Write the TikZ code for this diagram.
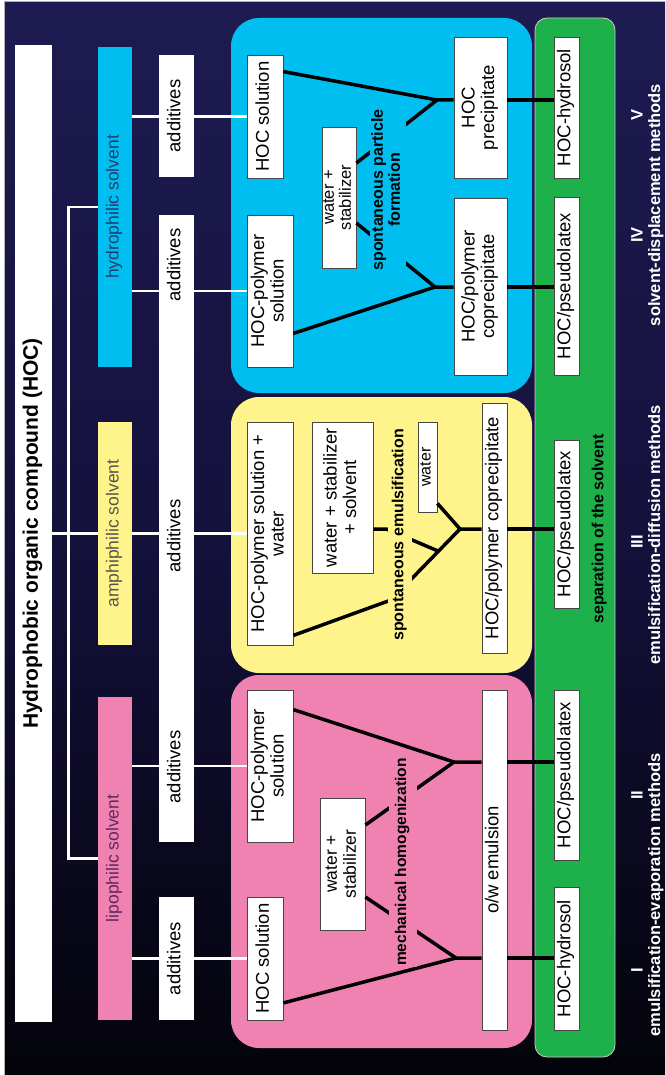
\documentclass[tikz,border=0pt]{standalone}
\usepackage{fontspec}
\setmainfont{Liberation Sans}
\usepackage{graphicx}
\usetikzlibrary{calc}

\definecolor{bgtop}{RGB}{30,27,82}
\definecolor{bgmid}{RGB}{20,17,60}
\definecolor{bgbot}{RGB}{3,3,10}
\definecolor{hydro}{RGB}{0,190,240}
\definecolor{amphi}{RGB}{255,243,140}
\definecolor{lipo}{RGB}{240,130,178}
\definecolor{sepgreen}{RGB}{30,176,75}
\definecolor{boxline}{RGB}{70,70,70}
\definecolor{hydrotext}{RGB}{35,60,110}
\definecolor{amphitext}{RGB}{85,85,75}
\definecolor{lipotext}{RGB}{95,40,90}

\newcommand{\vtext}[1]{\rotatebox{90}{\begin{tabular}{@{}c@{}}#1\end{tabular}}}

\tikzset{
  hocbox/.style={draw=boxline,line width=0.8pt,fill=white,inner sep=0pt,
    font=\fontsize{18.5}{19.5}\selectfont},
  solventbar/.style={inner sep=0pt,minimum width=34pt,font=\fontsize{17.5}{18}\selectfont},
  stagepanel/.style={rounded corners=28pt},
  conn/.style={line width=3.5pt,black},
  feed/.style={line width=2.5pt,white},
  steplabel/.style={inner sep=1pt,font=\bfseries\fontsize{16}{16.5}\selectfont},
  methodtext/.style={text=white,inner sep=0pt,font=\bfseries\fontsize{16.5}{16.5}\selectfont},
}

\begin{document}
\begin{tikzpicture}[x=1pt,y=-1pt]
    % 画布
    \useasboundingbox (0,0) rectangle (665,1075);
    \clip (0,0) rectangle (665,1075);
    \fill[white] (0,0) rectangle (665,1075);
    \shade[top color=bgtop,bottom color=bgbot,middle color=bgmid] (4,2) rectangle (665,1075);
    \draw[gray!60,line width=1pt] (4,1075) -- (4,2) -- (665,2);

    % 方法区域
    \fill[hydro,stagepanel] (231,18) rectangle (532,393);
    \fill[amphi,stagepanel] (231,397) rectangle (532,673);
    \fill[lipo,stagepanel] (231,675) rectangle (532,1048);
    \filldraw[fill=sepgreen,draw=gray!40,line width=0.8pt,rounded corners=12pt] (535,18) rectangle (615,1057);

    % 标题与溶剂
    \node[hocbox,draw=none,minimum width=37pt,minimum height=977pt,font=\bfseries\fontsize{21}{22}\selectfont] (hoc) at (33.5,533.5) {\vtext{Hydrophobic organic compound (HOC)}};
    \node[solventbar,fill=hydro,text=hydrotext,minimum height=320pt] (hydrophilic) at (115,207) {\vtext{hydrophilic solvent}};
    \node[solventbar,fill=amphi,text=amphitext,minimum height=223pt] (amphiphilic) at (115,533.5) {\vtext{amphiphilic solvent}};
    \node[solventbar,fill=lipo,text=lipotext,minimum height=323pt] (lipophilic) at (115,858.5) {\vtext{lipophilic solvent}};

    % 添加剂
    \node[hocbox,draw=none,minimum width=35pt,minimum height=122pt] (addA) at (176.5,116) {\vtext{additives}};
    \node[hocbox,draw=none,minimum width=35pt,minimum height=627pt] (addbar) at (176.5,528.5) {};
    \foreach \n/\y in {addB/265,addC/536,addD/767}
        \node[hocbox,draw=none] (\n) at (176.5,\y) {\vtext{additives}};
    \node[hocbox,draw=none,minimum width=35pt,minimum height=123pt] (addE) at (176.5,958.5) {\vtext{additives}};

    % 亲水溶剂: 溶剂置换
    \node[hocbox,minimum width=36pt,minimum height=123pt] (cHOCsol) at (265,116.5) {\vtext{HOC solution}};
    \node[hocbox,minimum width=46pt,minimum height=152pt] (cPolsol) at (270,291) {\vtext{HOC-polymer\\solution}};
    \node[hocbox,minimum width=34pt,minimum height=141pt,font=\fontsize{16.5}{16.5}\selectfont] (cWS) at (339,197.5) {\vtext{water +\\stabilizer}};
    \node[hocbox,minimum width=53pt,minimum height=141pt] (cPrec) at (480.5,107.5) {\vtext{HOC\\precipitate}};
    \node[hocbox,minimum width=53pt,minimum height=177pt] (cCopr) at (480.5,286.5) {\vtext{HOC/polymer\\coprecipitate}};

    % 两亲溶剂: 乳化扩散
    \node[hocbox,minimum width=46pt,minimum height=223pt] (yPW) at (270,533.5) {\vtext{HOC-polymer solution +\\water}};
    \node[hocbox,minimum width=61pt,minimum height=151pt] (yWSS) at (342.5,497.5) {\vtext{water + stabilizer\\+ solvent}};
    \node[hocbox,minimum width=19pt,minimum height=90pt,font=\fontsize{16}{16}\selectfont] (yW) at (427.5,467) {\vtext{water}};
    \node[hocbox,minimum width=25pt,minimum height=250pt] (yCopr) at (494.5,528) {\vtext{HOC/polymer coprecipitate}};

    % 亲油溶剂: 乳化蒸发
    \node[hocbox,minimum width=46pt,minimum height=152pt] (pPolsol) at (270,766) {\vtext{HOC-polymer\\solution}};
    \node[hocbox,minimum width=36pt,minimum height=123pt] (pHOCsol) at (265,958.5) {\vtext{HOC solution}};
    \node[hocbox,minimum width=45pt,minimum height=132pt,font=\fontsize{17.5}{19}\selectfont] (pWS) at (342.5,864) {\vtext{water +\\stabilizer}};
    \node[hocbox,minimum width=25pt,minimum height=340pt] (pOW) at (494.5,860) {\vtext{o/w emulsion}};

    % 产物
    \foreach \n/\y/\h/\t in {g5/107.5/141/HOC-hydrosol,g4/286/178/{HOC/pseudolatex},g3/524/168/{HOC/pseudolatex},g2/775/170/{HOC/pseudolatex},g1/958.5/143/HOC-hydrosol}
        \node[hocbox,minimum width=25pt,minimum height=\h pt] (\n) at (566.5,\y) {\vtext{\t}};

    % 白色连线
    \draw[feed] (hydrophilic.west) -| ($(hoc.east)+(16,0)$) |- (lipophilic.west);
    \draw[feed] (hoc.east) -- (amphiphilic.west);
    \foreach \s/\a/\b in {hydrophilic/addA/cHOCsol,hydrophilic/addbar/cPolsol,amphiphilic/addbar/yPW,lipophilic/addbar/pPolsol,lipophilic/addE/pHOCsol} {
        \draw[feed] (\s.east |- \b) -- (\a.west |- \b);
        \draw[feed] (\a.east |- \b) -- (\b.west);
    }

    % 汇合点
    \coordinate (cj1) at (437,100);
    \coordinate (cj2) at (435,287);
    \coordinate (yj1) at (460,529);
    \coordinate (yj2) at (438,551);
    \coordinate (ybend) at (391,600);
    \coordinate (pj1) at (454,762);
    \coordinate (pj2) at (456,958);

    % 黑色连线
    \draw[conn] ([yshift=-17pt]cHOCsol.north east) -- (cj1) -- (cPrec.west |- cj1);
    \draw[conn] ([yshift=34.5pt]cWS.east) -- (cj1);
    \draw[conn] ([yshift=34pt]cPolsol.south east) -- (cj2) -- (cCopr.west |- cj2);
    \draw[conn] ([yshift=-25.5pt]cWS.east) -- (cj2);
    \draw[conn] (cPrec.east |- cj1) -- (g5.west |- cj1);
    \draw[conn] (cCopr.east |- cj2) -- (g4.west |- cj2);

    \draw[conn] ([yshift=-31.5pt]yWSS.east) -- ++(13,0) -- (yj2);
    \draw[conn] ([yshift=10pt]yPW.south east) -- (ybend) -- (yj1) -- (yCopr.west |- yj1);
    \draw[conn] ([yshift=9pt]yW.south east) -- (yj1);
    \draw[conn] (yCopr.east |- yj1) -- (g3.west |- yj1);

    \draw[conn] ([yshift=-20pt]pPolsol.north east) -- (pj1) -- (pOW.west |- pj1);
    \draw[conn] ([yshift=39pt]pWS.east) -- (pj1);
    \draw[conn] ([yshift=17.5pt]pHOCsol.south east) -- (pj2) -- (pOW.west |- pj2);
    \draw[conn] ([yshift=-33pt]pWS.east) -- (pj2);
    \draw[conn] (pOW.east |- pj1) -- (g2.west |- pj1);
    \draw[conn] (pOW.east |- pj2) -- (g1.west |- pj2);

    % 过程说明
    \node[steplabel,fill=hydro,font=\bfseries\fontsize{16}{17}\selectfont] (spf) at (388,190) {\vtext{spontaneous particle\\formation}};
    \node[steplabel,fill=amphi,inner xsep=4pt] (se) at (400,535) {\vtext{spontaneous emulsification}};
    \node[steplabel,fill=lipo,inner xsep=6pt,font=\bfseries\fontsize{15.5}{16}\selectfont] (mh) at (403,862) {\vtext{mechanical homogenization}};
    \node[steplabel] (sep) at (600,529) {\vtext{separation of the solvent}};

    % 方法编号
    \foreach \r/\y in {V/115,IV/235,III/542,II/795,I/970}
        \node[methodtext] (m\r) at (637,\y) {\rotatebox{90}{\r}};
    \node[methodtext,anchor=west] (displ) at (648,205) {\rotatebox{90}{solvent-displacement methods}};
    \node[methodtext,anchor=west] (diff) at (648,535) {\rotatebox{90}{emulsification-diffusion methods}};
    \node[methodtext,anchor=west] (evap) at (648,895) {\rotatebox{90}{emulsification-evaporation methods}};
\end{tikzpicture}
\end{document}
